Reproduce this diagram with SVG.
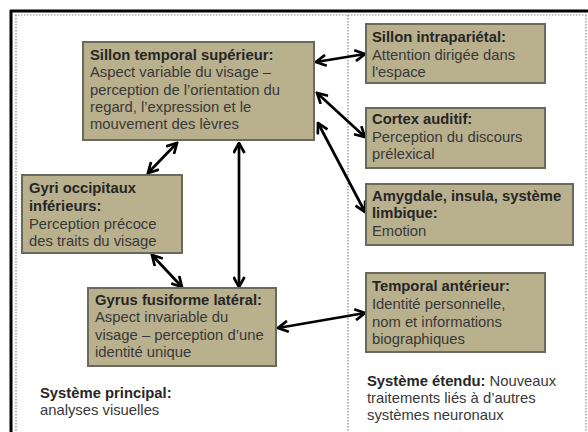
<svg xmlns="http://www.w3.org/2000/svg" width="588" height="432" viewBox="0 0 588 432">
<defs>
<style>
text{font-family:"Liberation Sans",Arial,sans-serif;font-size:14.8px;fill:#383838}
.b{font-weight:bold;fill:#262626}
.box{fill:#b9b08d;stroke:#6a695c;stroke-width:2}
.con{stroke:#000;stroke-width:2.7;fill:none;marker-start:url(#ah);marker-end:url(#ah)}
.dot{stroke:#888;stroke-width:1.2;stroke-dasharray:1.5 1.5;fill:none}
</style>
<marker id="ah" viewBox="0 0 13 13" refX="11.5" refY="6.5" markerWidth="13" markerHeight="13" markerUnits="userSpaceOnUse" orient="auto-start-reverse">
<path d="M1.5,1 L11.5,6.5 L1.5,12" fill="none" stroke="#000" stroke-width="2.7" stroke-linejoin="miter"/>
</marker>
</defs>
<rect width="588" height="432" fill="#fff"/>
<g id="frame">
<line x1="10" y1="11" x2="588" y2="11" stroke="#000" stroke-width="3"/>
<line x1="11" y1="10" x2="11" y2="432" stroke="#000" stroke-width="3"/>
<line class="dot" x1="15" y1="15" x2="586" y2="15"/>
<line class="dot" x1="16" y1="15" x2="16" y2="432"/>
<line class="dot" x1="586" y1="15" x2="586" y2="432"/>
<line class="dot" x1="348" y1="15" x2="348" y2="432"/>
</g>
<g id="connectors">
<line class="con" x1="316" y1="62" x2="365" y2="54"/>
<line class="con" x1="317" y1="93" x2="365" y2="137"/>
<line class="con" x1="318" y1="123" x2="365" y2="212"/>
<line class="con" x1="177" y1="143" x2="148" y2="173"/>
<line class="con" x1="239" y1="143" x2="239" y2="287"/>
<line class="con" x1="152" y1="255" x2="182" y2="287"/>
<line class="con" x1="278" y1="328" x2="365" y2="313"/>
</g>
<g id="sts">
<rect class="box" x="83" y="42" width="231" height="98"/>
<text x="90" y="60" class="b">Sillon temporal supérieur:</text>
<text x="90" y="77">Aspect variable du visage –</text>
<text x="90" y="95">perception de l’orientation du</text>
<text x="90" y="112">regard, l’expression et le</text>
<text x="90" y="129">mouvement des lèvres</text>
</g>
<g id="sip">
<rect class="box" x="366" y="24" width="179" height="59"/>
<text x="372" y="42" class="b">Sillon intrapariétal:</text>
<text x="372" y="60">Attention dirigée dans</text>
<text x="372" y="77">l'espace</text>
</g>
<g id="ca">
<rect class="box" x="366" y="108" width="179" height="60"/>
<text x="372" y="124" class="b">Cortex auditif:</text>
<text x="372" y="142">Perception du discours</text>
<text x="372" y="159">prélexical</text>
</g>
<g id="amy">
<rect class="box" x="366" y="184" width="207" height="61"/>
<text x="372" y="201" class="b">Amygdale, insula, système</text>
<text x="372" y="218" class="b">limbique:</text>
<text x="372" y="236">Emotion</text>
</g>
<g id="ta">
<rect class="box" x="366" y="273" width="179" height="79"/>
<text x="372" y="291" class="b">Temporal antérieur:</text>
<text x="372" y="309">Identité personnelle,</text>
<text x="372" y="327">nom et informations</text>
<text x="372" y="344">biographiques</text>
</g>
<g id="goi">
<rect class="box" x="22" y="175" width="160" height="78"/>
<text x="29" y="193" class="b">Gyri occipitaux</text>
<text x="29" y="211" class="b">inférieurs:</text>
<text x="29" y="229">Perception précoce</text>
<text x="29" y="246">des traits du visage</text>
</g>
<g id="gfl">
<rect class="box" x="88" y="288" width="188" height="78"/>
<text x="95" y="305" class="b">Gyrus fusiforme latéral:</text>
<text x="95" y="322">Aspect invariable du</text>
<text x="95" y="340">visage – perception d’une</text>
<text x="95" y="357">identité unique</text>
</g>
<g id="labels">
<text x="40" y="398" class="b">Système principal:</text>
<text x="40" y="415">analyses visuelles</text>
<text x="367" y="386"><tspan class="b">Système étendu:</tspan> Nouveaux</text>
<text x="367" y="403">traitements liés à d’autres</text>
<text x="367" y="420">systèmes neuronaux</text>
</g>
</svg>
